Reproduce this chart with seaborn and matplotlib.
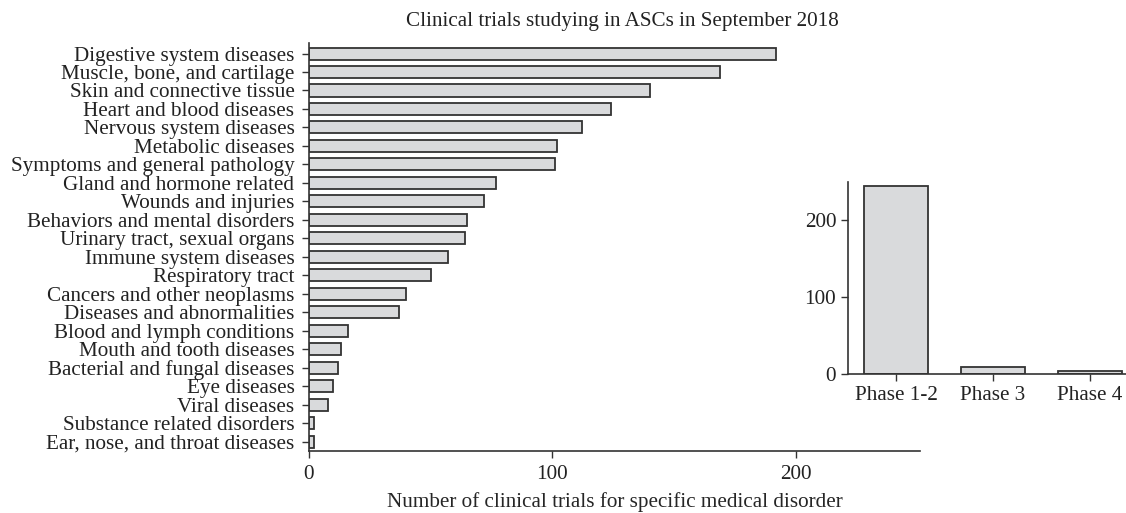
import matplotlib
matplotlib.use("Agg")
import matplotlib.pyplot as plt
import seaborn as sns

disorders = [
    "Digestive system diseases", "Muscle, bone, and cartilage", "Skin and connective tissue",
    "Heart and blood diseases", "Nervous system diseases", "Metabolic diseases",
    "Symptoms and general pathology", "Gland and hormone related", "Wounds and injuries",
    "Behaviors and mental disorders", "Urinary tract, sexual organs", "Immune system diseases",
    "Respiratory tract", "Cancers and other neoplasms", "Diseases and abnormalities",
    "Blood and lymph conditions", "Mouth and tooth diseases", "Bacterial and fungal diseases",
    "Eye diseases", "Viral diseases", "Substance related disorders", "Ear, nose, and throat diseases",
]
trial_counts = [192, 169, 140, 124, 112, 102, 101, 77, 72, 65, 64, 57, 50, 40, 37, 16, 13, 12, 10, 8, 2, 2]

phases = ["Phase 1-2", "Phase 3", "Phase 4"]
phase_counts = [244, 9, 4]

sns.set_style("ticks")
plt.rcParams['font.family'] = ['Liberation Serif', 'DejaVu Serif']
plt.rcParams['text.color'] = '#222222'
plt.rcParams['xtick.color'] = '#333333'
plt.rcParams['ytick.color'] = '#333333'
plt.rcParams['xtick.labelcolor'] = '#222222'
plt.rcParams['ytick.labelcolor'] = '#222222'

bar_face = '#d9dadc'
bar_edge = '#333333'
fs = 15.2

fig = plt.figure(figsize=(11.26, 5.13), dpi=100)

# main horizontal bar chart
ax = fig.add_axes([0.2744, 0.1209, 0.5426, 0.7953])
sns.barplot(x=trial_counts, y=disorders, orient='h', color=bar_face, saturation=1,
            edgecolor=bar_edge, linewidth=1.3, width=0.65, ax=ax)
ax.set_xlim(0, 251)
ax.set_ylim(len(disorders) - 0.5, -0.57)
ax.set_xticks([0, 100, 200])
ax.tick_params(axis='both', labelsize=fs, direction='out', length=5, width=1)
ax.tick_params(axis='x', pad=5)
ax.tick_params(axis='y', pad=5.5)
ax.set_xlabel("Number of clinical trials for specific medical disorder", fontsize=fs, labelpad=6)
ax.set_ylabel("")
for s in ['top', 'right']:
    ax.spines[s].set_visible(False)
for s in ['left', 'bottom']:
    ax.spines[s].set_color('#333333')
    ax.spines[s].set_linewidth(1.2)

fig.text(0.5524, 0.958, "Clinical trials studying in ASCs in September 2018",
         ha='center', va='center', fontsize=fs)

# inset: trials by phase
ax2 = fig.add_axes([0.7531, 0.2704, 0.2576, 0.3754])
sns.barplot(x=phases, y=phase_counts, color=bar_face, saturation=1,
            edgecolor=bar_edge, linewidth=1.3, width=0.665, ax=ax2)
ax2.set_xlim(-0.5, 2.5)
ax2.set_ylim(0, 250)
ax2.set_yticks([0, 100, 200])
ax2.tick_params(axis='both', labelsize=fs, direction='out', length=5, width=1)
ax2.set_xlabel("")
ax2.set_ylabel("")
for s in ['top', 'right']:
    ax2.spines[s].set_visible(False)
for s in ['left', 'bottom']:
    ax2.spines[s].set_color('#333333')
    ax2.spines[s].set_linewidth(1.2)

fig.savefig("out.png", dpi=100)
